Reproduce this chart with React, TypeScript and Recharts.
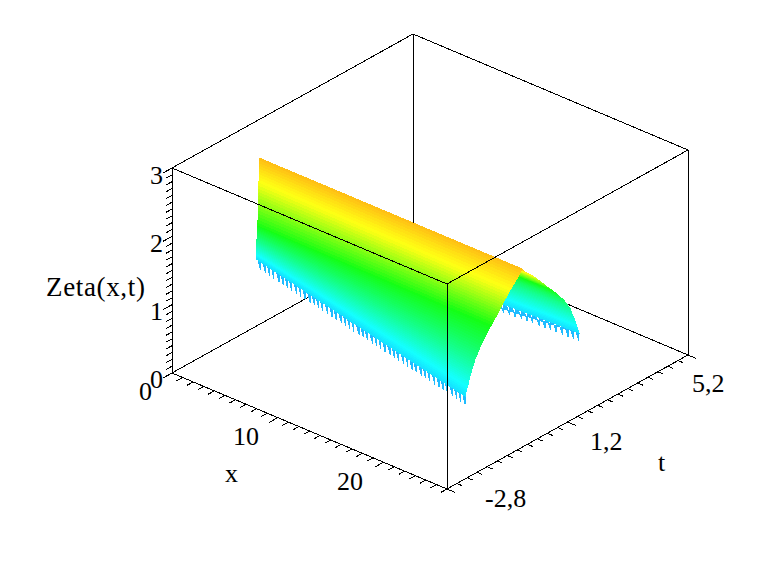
import * as React from "react";
import { LineChart, Line, XAxis, YAxis, ReferenceDot } from "recharts";

const W = 782;
const H = 571;

// plot box ranges
const xRange = [0, 26];
const tRange = [-2.8, 5.2];
const zRange = [0, 3];

// tick values
const xTicks = [0, 1, 2, 3, 4, 5, 6, 7, 8, 9, 10, 11, 12, 13, 14, 15, 16, 17, 18, 19, 20, 21, 22, 23, 24, 25, 26];
const xMajor = [0, 10, 20];
const tTicks = [-2.8, -2.47, -2.13, -1.8, -1.47, -1.13, -0.8, -0.47, -0.13, 0.2, 0.53, 0.87, 1.2, 1.53, 1.87, 2.2, 2.53, 2.87, 3.2, 3.53, 3.87, 4.2, 4.53, 4.87, 5.2];
const tMajor = [-2.8, 1.2, 5.2];
const zTicks = [0, 0.1, 0.2, 0.3, 0.4, 0.5, 0.6, 0.7, 0.8, 0.9, 1, 1.1, 1.2, 1.3, 1.4, 1.5, 1.6, 1.7, 1.8, 1.9, 2, 2.1, 2.2, 2.3, 2.4, 2.5, 2.6, 2.7, 2.8, 2.9, 3];
const zMajor = [0, 1, 2, 3];

const tPeak = -0.17;
const zLevels = [
  2.55, 2.525, 2.5, 2.475, 2.45, 2.425, 2.4, 2.375, 2.35, 2.325, 2.3, 2.275, 2.25, 2.225, 2.2, 2.175, 2.15, 2.125, 2.1,
  2.075, 2.05, 2.025, 2, 1.975, 1.95, 1.925, 1.9, 1.875, 1.85, 1.825, 1.8, 1.775, 1.75, 1.725, 1.7, 1.675, 1.65, 1.625,
  1.6, 1.575, 1.55, 1.525, 1.5, 1.475, 1.45, 1.425, 1.4, 1.375, 1.35, 1.325, 1.3, 1.275, 1.25, 1.225, 1.2, 1.175, 1.15,
];
const halfWidths = [
  0, 0.03, 0.07, 0.115, 0.16, 0.215, 0.27, 0.32, 0.37, 0.415, 0.46, 0.505, 0.55, 0.595, 0.64, 0.68, 0.72, 0.76, 0.8,
  0.845, 0.89, 0.935, 0.98, 1.025, 1.07, 1.11, 1.15, 1.19, 1.23, 1.27, 1.31, 1.35, 1.39, 1.42, 1.45, 1.48, 1.51, 1.54,
  1.57, 1.59, 1.61, 1.63, 1.65, 1.67, 1.69, 1.71, 1.73, 1.745, 1.76, 1.775, 1.79, 1.81, 1.83, 1.845, 1.86, 1.875, 1.89,
];
// the same levels, read where they meet the thin left edge of the sheet
const zLevelsLeft = [
  2.55, 2.509, 2.468, 2.427, 2.386, 2.345, 2.305, 2.264, 2.223, 2.181, 2.135, 2.09, 2.044, 1.998, 1.952, 1.907, 1.861,
  1.815, 1.769, 1.724, 1.678, 1.632, 1.586, 1.547, 1.533, 1.519, 1.505, 1.491, 1.477, 1.463, 1.449, 1.435, 1.421, 1.407,
  1.393, 1.379, 1.365, 1.351, 1.337, 1.323, 1.309, 1.295, 1.281, 1.267, 1.253, 1.239, 1.225, 1.211, 1.197, 1.183, 1.17,
  1.158, 1.147, 1.135, 1.123, 1.112, 1.1,
];
const toothDepth = 0.12;

// how far the sheet has opened at each x station, near and far side
const xStations = [
  0.8, 1.3, 1.9, 2.4, 2.9, 3.5, 4, 4.5, 5, 5.6, 6.1, 6.6, 7.2, 7.7, 8.2, 8.7, 9.3, 9.8, 10.3, 10.9, 11.4, 11.9, 12.4, 13,
  13.5, 14, 14.6, 15.1, 15.6, 16.1, 16.7, 17.2, 17.7, 18.3, 18.8, 19.3, 19.8, 20.4, 20.9, 21.4, 22, 22.5, 23, 23.5, 24.1,
  24.6, 25.1, 25.6,
];
const nearOpen = [
  0.06, 0.08, 0.1, 0.12, 0.14, 0.16, 0.18, 0.2, 0.22, 0.24, 0.26, 0.28, 0.3, 0.32, 0.34, 0.36, 0.38, 0.4, 0.42, 0.44, 0.46,
  0.48, 0.5, 0.52, 0.54, 0.56, 0.58, 0.6, 0.62, 0.64, 0.66, 0.68, 0.7, 0.72, 0.74, 0.76, 0.78, 0.8, 0.82, 0.84, 0.86, 0.88,
  0.9, 0.92, 0.94, 0.96, 0.98, 1,
];
const farOpen = [
  0.45, 0.46, 0.47, 0.48, 0.49, 0.5, 0.52, 0.53, 0.54, 0.56, 0.57, 0.58, 0.6, 0.61, 0.62, 0.64, 0.65, 0.67, 0.68, 0.7, 0.71,
  0.73, 0.75, 0.76, 0.78, 0.8, 0.82, 0.84, 0.86, 0.88, 0.9, 0.91, 0.92, 0.93, 0.94, 0.95, 0.955, 0.96, 0.965, 0.97, 0.975,
  0.98, 0.985, 0.99, 0.992, 0.995, 0.998, 1,
];

// hue stops against height at the open end
const hueZ = [2.55, 2.33, 1.98, 1.3, 1.15];
const hueDeg = [44, 62, 120, 178, 188];

type Pt = { px: number; py: number | null };
type Seg = [number, number, number, number, number, number];

function project(x: number, t: number, z: number): Pt {
  const u = (x - xRange[0]) / (xRange[1] - xRange[0]);
  const v = (t - tRange[0]) / (tRange[1] - tRange[0]);
  const w = (z - zRange[0]) / (zRange[1] - zRange[0]);
  return {
    px: 172 + u * 275 + v * 241,
    py: 373 + u * 116 - v * 134 - w * 205,
  };
}

function zHue(z: number) {
  let i = 0;
  while (i < hueZ.length - 2 && z < hueZ[i + 1]) i++;
  const f = (hueZ[i] - z) / (hueZ[i] - hueZ[i + 1]);
  const hue = hueDeg[i] + f * (hueDeg[i + 1] - hueDeg[i]);
  return `hsl(${hue.toFixed(1)}, 100%, 54%)`;
}

// height of level k at station i; the far side is only seen near the open end
function levelZ(k: number, i: number, open: number[], sign: number) {
  if (sign > 0) return zLevels[k];
  return zLevelsLeft[k] + (zLevels[k] - zLevelsLeft[k]) * open[i];
}

// one strip of the sheet between two levels, as a closed outline
function strip(k: number, open: number[], sign: number): Pt[] {
  const upper = xStations.map((x, i) =>
    project(x, tPeak + sign * halfWidths[k] * open[i], levelZ(k, i, open, sign))
  );
  const lower = xStations.map((x, i) =>
    project(x, tPeak + sign * halfWidths[k + 1] * open[i], levelZ(k + 1, i, open, sign))
  );
  return [...upper, ...lower.reverse(), upper[0]];
}

// bottom fringe, saw teeth hanging from the lowest level
function fringe(open: number[], sign: number): Pt[] {
  const k = zLevels.length - 1;
  const at = (i: number, drop: number) =>
    project(xStations[i], tPeak + sign * halfWidths[k] * open[i], levelZ(k, i, open, sign) - drop);
  const mid = (i: number) => {
    const a = at(i - 1, 0);
    const b = at(i, 0);
    return { px: (a.px + b.px) / 2, py: ((a.py as number) + (b.py as number)) / 2 };
  };
  const pts: Pt[] = [at(0, 0)];
  for (let i = 1; i < xStations.length; i++) {
    pts.push(mid(i), at(i, toothDepth), at(i, 0));
  }
  pts.push(pts[0]);
  return pts;
}

function segments(list: Seg[]): Pt[] {
  const pts: Pt[] = [];
  list.forEach(([x0, t0, z0, x1, t1, z1]) => {
    const a = project(x0, t0, z0);
    const b = project(x1, t1, z1);
    pts.push(a, b, { px: b.px, py: null });
  });
  return pts;
}

const [x0, x1] = xRange;
const [t0, t1] = tRange;
const [z0, z1] = zRange;

const backEdges = segments([
  [x0, t1, z0, x0, t1, z1],
  [x0, t0, z0, x0, t1, z0],
  [x0, t1, z0, x1, t1, z0],
]);
const frontEdges = segments([
  [x0, t0, z0, x0, t0, z1],
  [x0, t0, z1, x0, t1, z1],
  [x0, t1, z1, x1, t1, z1],
  [x1, t1, z1, x1, t1, z0],
  [x1, t1, z0, x1, t0, z0],
  [x1, t0, z0, x0, t0, z0],
  [x0, t0, z1, x1, t0, z1],
  [x1, t0, z1, x1, t1, z1],
  [x1, t0, z1, x1, t0, z0],
]);
const tickMarks = segments([
  ...xTicks.map((x): Seg => [x, t0, z0, x, t0 - (xMajor.includes(x) ? 0.3 : 0.2), z0]),
  ...tTicks.map((t): Seg => [x1, t, z0, x1 + (tMajor.includes(t) ? 0.8 : 0.5), t, z0]),
  ...zTicks.map((z): Seg => [x0, t0, z, x0, t0 - (zMajor.includes(z) ? 0.3 : 0.2), z]),
]);

const FONT = '"Liberation Serif", "Times New Roman", serif';
const TOOTH = "hsl(198, 100%, 56%)";

function Label(at: [number, number], text: string, size = 26, spacing = 0) {
  return (
    <ReferenceDot
      x={at[0]}
      y={at[1]}
      r={0}
      ifOverflow="visible"
      shape={(p: any) => (
        <text x={p.cx} y={p.cy} fontFamily={FONT} fontSize={size} letterSpacing={spacing} fill="#000">
          {text}
        </text>
      )}
    />
  );
}

function Poly(data: Pt[], color: string, key: string) {
  return (
    <Line
      key={key}
      data={data}
      dataKey="py"
      stroke={color}
      strokeWidth={1}
      dot={false}
      activeDot={false}
      legendType="none"
      isAnimationActive={false}
      style={{ fill: color, shapeRendering: "crispEdges" }}
    />
  );
}

function Rule(data: Pt[]) {
  return (
    <Line
      data={data}
      dataKey="py"
      stroke="#000"
      strokeWidth={1}
      dot={false}
      activeDot={false}
      legendType="none"
      isAnimationActive={false}
      style={{ shapeRendering: "crispEdges" }}
    />
  );
}

export default function App() {
  const strips = zLevels.slice(0, -1).map((_, k) => k);
  return (
    <div style={{ position: "absolute", left: 0, top: 0, width: W, height: H, background: "#fff" }}>
      <LineChart width={W} height={H} margin={{ top: 0, right: 0, bottom: 0, left: 0 }}>
        <XAxis type="number" dataKey="px" domain={[0, W]} hide allowDataOverflow />
        <YAxis type="number" domain={[0, H]} reversed hide allowDataOverflow width={0} />
        {Rule(backEdges)}
        {Poly(fringe(farOpen, 1), TOOTH, "far-fringe")}
        {strips.map((k) => Poly(strip(k, farOpen, 1), zHue(zLevels[k]), "far" + k))}
        {Poly(fringe(nearOpen, -1), TOOTH, "near-fringe")}
        {strips.map((k) => Poly(strip(k, nearOpen, -1), zHue(zLevels[k]), "near" + k))}
        {Rule(frontEdges)}
        {Rule(tickMarks)}
        {Label([150, 184], "3")}
        {Label([150, 252], "2")}
        {Label([150, 320], "1")}
        {Label([150, 388], "0")}
        {Label([139, 400], "0")}
        {Label([233, 445], "10")}
        {Label([337, 490], "20")}
        {Label([225, 482], "x")}
        {Label([485, 507], "-2,8")}
        {Label([590, 450], "1,2")}
        {Label([692, 392], "5,2")}
        {Label([658, 471], "t")}
        {Label([46, 296], "Zeta(x,t)", 27, 0.65)}
      </LineChart>
    </div>
  );
}
